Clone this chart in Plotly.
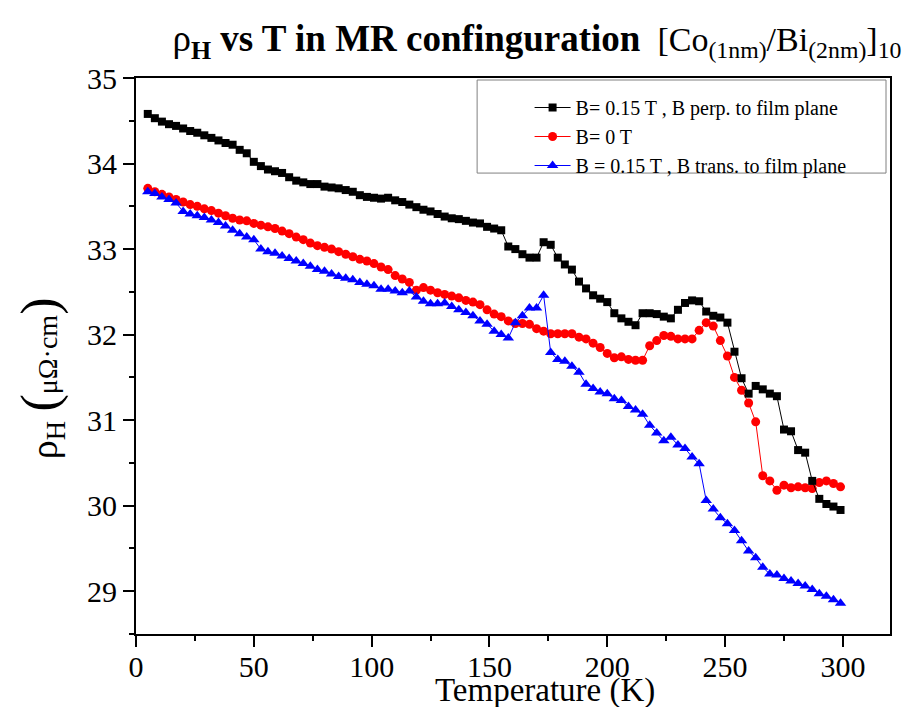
import plotly.graph_objects as go

# Temperature grid (K)
temperature = [5, 8, 11, 14, 17, 20, 23, 26, 29, 32, 35, 38, 41, 44, 47, 50, 53, 56, 59, 62,
               65, 68, 71, 74, 77, 80, 83, 86, 89, 92, 95, 98, 101, 104,
               107, 110, 113, 116, 119, 122, 125, 128, 131, 134, 137, 140, 143, 146, 149, 152,
               155, 158, 161, 164, 167, 170, 173, 176, 179, 182, 185, 188, 191, 194, 197, 200, 203,
               206, 209, 212, 215, 218, 221, 224, 227, 230, 233, 236, 239, 242, 245, 248, 251,
               254, 257, 260, 263, 266, 269, 272, 275, 278, 281, 284, 287, 290, 293, 296, 299]

# Hall resistivity (µΩ·cm), B = 0.15 T perpendicular to film plane
rho_perp = [34.58, 34.53, 34.49, 34.46, 34.44, 34.41, 34.38, 34.36, 34.33, 34.30, 34.27, 34.24,
            34.22, 34.16, 34.12, 34.02, 33.97, 33.93, 33.91, 33.89, 33.84, 33.80, 33.78, 33.76,
            33.76, 33.73, 33.72, 33.71, 33.69, 33.67, 33.63, 33.61, 33.60, 33.59,
            33.60, 33.57, 33.55, 33.52, 33.49, 33.46, 33.44, 33.41, 33.38, 33.36, 33.35, 33.33,
            33.31, 33.30, 33.26, 33.24, 33.22, 33.03, 33.00, 32.94, 32.90, 32.90, 33.08, 33.05,
            32.90, 32.82, 32.76, 32.62, 32.54, 32.46, 32.42, 32.38, 32.25,
            32.19, 32.15, 32.11, 32.25, 32.25, 32.24, 32.21, 32.19, 32.29, 32.37, 32.40, 32.39,
            32.27, 32.22, 32.20, 32.14, 31.80, 31.49, 31.31, 31.40, 31.36, 31.31, 31.28, 30.89,
            30.87, 30.65, 30.62, 30.29, 30.08, 30.02, 29.99, 29.95]

# Hall resistivity (µΩ·cm), B = 0 T
rho_zero = [33.71, 33.67, 33.64, 33.61, 33.58, 33.55, 33.52, 33.50, 33.47, 33.45, 33.42, 33.39,
            33.36, 33.34, 33.33, 33.30, 33.28, 33.26, 33.24, 33.21, 33.18, 33.14, 33.11, 33.07,
            33.04, 33.02, 33.00, 32.97, 32.94, 32.91, 32.88, 32.86, 32.83, 32.79,
            32.76, 32.69, 32.65, 32.61, 32.52, 32.55, 32.52, 32.49, 32.47, 32.45, 32.43, 32.40,
            32.38, 32.35, 32.29, 32.24, 32.21, 32.16, 32.13, 32.13, 32.12, 32.07, 32.04, 32.01,
            32.01, 32.01, 32.01, 31.97, 31.95, 31.90, 31.85, 31.78, 31.73,
            31.74, 31.71, 31.70, 31.70, 31.87, 31.93, 31.99, 31.98, 31.95, 31.95, 31.95, 32.05,
            32.14, 32.10, 31.93, 31.75, 31.50, 31.35, 31.20, 30.98, 30.35, 30.29, 30.18, 30.24,
            30.21, 30.22, 30.21, 30.20, 30.27, 30.29, 30.26, 30.22]

# Hall resistivity (µΩ·cm), B = 0.15 T transverse to film plane
rho_trans = [33.67, 33.65, 33.61, 33.58, 33.54, 33.44, 33.41, 33.39, 33.37, 33.34, 33.31, 33.27,
             33.22, 33.18, 33.14, 33.11, 33.00, 32.97, 32.95, 32.92, 32.89, 32.86, 32.83, 32.80,
             32.76, 32.74, 32.71, 32.68, 32.66, 32.64, 32.61, 32.59, 32.57, 32.53,
             32.53, 32.51, 32.49, 32.51, 32.44, 32.39, 32.36, 32.36, 32.37, 32.33, 32.29, 32.26,
             32.22, 32.16, 32.12, 32.04, 32.00, 31.96, 32.14, 32.22, 32.31, 32.31, 32.46, 31.79,
             31.71, 31.69, 31.63, 31.56, 31.42, 31.37, 31.33, 31.31, 31.25,
             31.23, 31.16, 31.12, 31.07, 30.94, 30.85, 30.76, 30.80, 30.71, 30.67, 30.57, 30.49,
             30.06, 29.96, 29.86, 29.79, 29.71, 29.59, 29.47, 29.39, 29.28, 29.20, 29.19, 29.15,
             29.12, 29.09, 29.06, 29.02, 28.97, 28.94, 28.90, 28.86]

names = ["B= 0.15 T , B perp. to film plane", "B= 0 T", "B = 0.15 T , B trans. to film plane"]

SERIF = "Liberation Serif, Times New Roman, serif"

fig = go.Figure()

fig.add_trace(go.Scatter(
    x=temperature, y=rho_zero, name=names[1], mode="lines+markers", legendrank=2,
    line=dict(color="#ff0000", width=1),
    marker=dict(symbol="circle", size=9, color="#ff0000"),
))
fig.add_trace(go.Scatter(
    x=temperature, y=rho_trans, name=names[2], mode="lines+markers", legendrank=3,
    line=dict(color="#0000ff", width=1),
    marker=dict(symbol="triangle-up", size=10, color="#0000ff"),
))
fig.add_trace(go.Scatter(
    x=temperature, y=rho_perp, name=names[0], mode="lines+markers", legendrank=1,
    line=dict(color="#000000", width=1),
    marker=dict(symbol="square", size=8, color="#000000"),
))

axis_common = dict(
    showline=True, linecolor="black", linewidth=2, mirror=True,
    ticks="outside", ticklen=11, tickwidth=2, tickcolor="black",
    showgrid=False, zeroline=False,
    tickfont=dict(family=SERIF, size=30, color="black"),
)

fig.update_xaxes(range=[0, 320], dtick=50, tick0=0, ticklabelstandoff=-6,
                 minor=dict(dtick=25, ticks="outside", ticklen=5, tickwidth=2, tickcolor="black"),
                 **axis_common)
fig.update_yaxes(range=[28.5, 35], dtick=1, tick0=29,
                 minor=dict(dtick=0.5, ticks="outside", ticklen=5, tickwidth=2, tickcolor="black"),
                 **axis_common)

fig.update_layout(
    width=904, height=707,
    margin=dict(l=136, r=12, t=78, b=73),
    plot_bgcolor="white", paper_bgcolor="white",
    font=dict(family=SERIF, color="black"),
    title=dict(
        text="<span style='font-size:37px'>ρ<sub><b>H</b></sub><b> vs T in MR confinguration</b></span>  "
             "[Co<sub>(1nm)</sub>/Bi<sub>(2nm)</sub>]<sub>10</sub>",
        x=0.594, xanchor="center", y=0.945, yanchor="middle",
        font=dict(family=SERIF, size=34, color="black"),
    ),
    legend=dict(
        x=0.522, y=0.982, xanchor="left", yanchor="top",
        bgcolor="rgba(0,0,0,0)", borderwidth=0,
        font=dict(family=SERIF, size=20, color="black"),
        tracegroupgap=0, itemwidth=36,
    ),
    showlegend=True,
)

# legend frame
fig.add_shape(type="rect", xref="paper", yref="paper",
              x0=0.4524, x1=0.9947, y0=0.829, y1=0.9964,
              line=dict(color="#808080", width=1), fillcolor="white", layer="below")

# axis titles
fig.add_annotation(
    xref="paper", yref="paper", x=0.542, y=-0.102, xanchor="center", yanchor="middle",
    text="Temperature (K)", showarrow=False,
    font=dict(family=SERIF, size=33, color="black"),
)
fig.add_annotation(
    xref="paper", yref="paper", x=-0.126, y=0.46, xanchor="center", yanchor="middle",
    textangle=-90, showarrow=False,
    text="ρ<sub>H</sub> <span style='font-size:52px'>(</span>"
         "<span style='font-size:28px'>μΩ·cm</span>"
         "<span style='font-size:52px'>)</span>",
    font=dict(family=SERIF, size=38, color="black"),
)

fig.write_html("out.html")
